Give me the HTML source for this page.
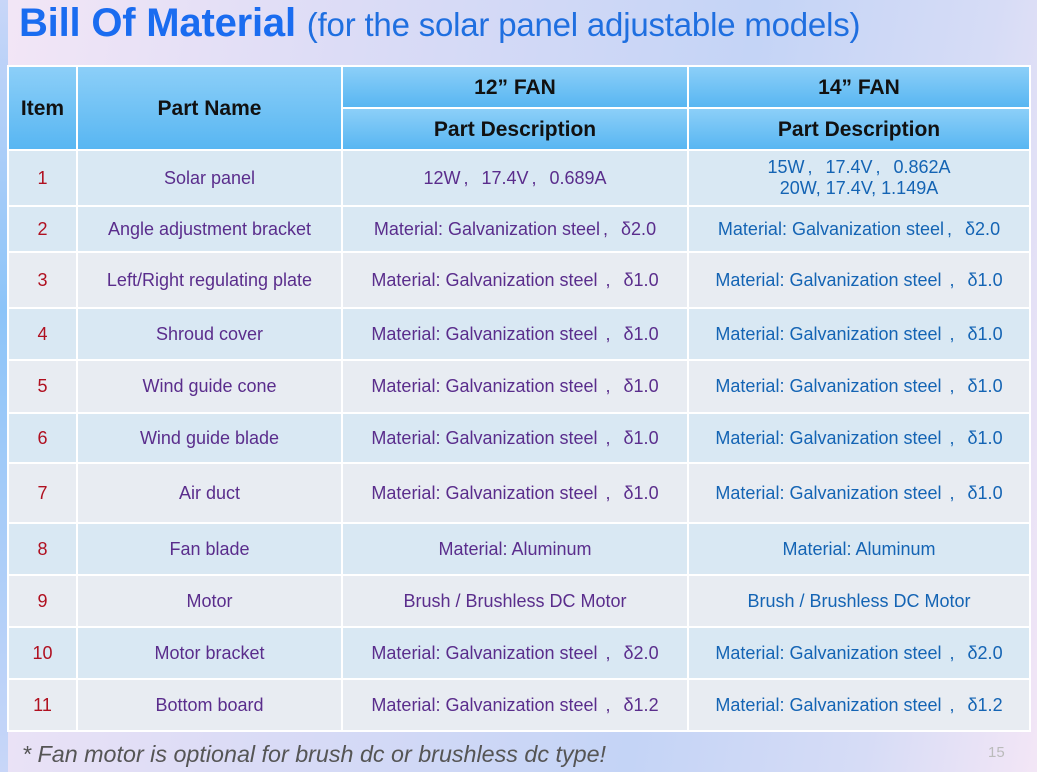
<!DOCTYPE html>
<html><head><meta charset="utf-8"><style>
html,body{margin:0;padding:0}
body{width:1037px;height:772px;position:relative;overflow:hidden;font-family:"Liberation Sans",Arial,sans-serif;
background:linear-gradient(100deg,#f3e6f6 0%,#dcdcf6 30%,#c4d4f6 65%,#d6dcf6 85%,#f3e6f6 100%);}
.edge{position:absolute;left:0;top:0;width:8px;height:772px;background:linear-gradient(180deg,#c8d6f8,#8cc4f8 40%,#c8d6f8)}
h1{position:absolute;left:19px;top:1px;margin:0;font-weight:bold;font-size:40px;color:#1a6cf0;white-space:nowrap;letter-spacing:-0.2px}
h1 span{font-weight:normal;font-size:33px;color:#1f6fe0}
table{position:absolute;left:7px;top:65px;border-collapse:collapse;width:1022px;table-layout:fixed}
td{border:2px solid #fff;text-align:center;font-size:18px;padding:0;line-height:21px;white-space:nowrap}
.h{background:linear-gradient(180deg,#8ccff8,#58b6f2);font-weight:bold;color:#111;font-size:21px}
.b td{background:#d9e8f3}.g td{background:#e8ecf2}
.i{color:#b01020}.n{color:#5a2d8c}.c{color:#5a2d8c}.d{color:#1464b4}
.cm{display:inline-block;width:18px;text-align:left;padding-left:3px}
.foot{position:absolute;left:22px;top:741px;font-style:italic;font-size:23.3px;color:#555}
.pg{position:absolute;left:988px;top:744px;font-size:15px;color:#bbb}
</style></head><body>
<div class="edge"></div>
<h1>Bill Of Material <span>(for the solar panel adjustable models)</span></h1>
<table>
<col style="width:69px"><col style="width:265px"><col style="width:346px"><col style="width:342px">
<tr style="height:42px"><td class="h" rowspan="2">Item</td><td class="h" rowspan="2">Part Name</td><td class="h">12” FAN</td><td class="h">14” FAN</td></tr>
<tr style="height:42px"><td class="h">Part Description</td><td class="h">Part Description</td></tr>
<tr class="b" style="height:56px"><td class="i">1</td><td class="n">Solar panel</td><td class="c">12W<span class="cm">,</span>17.4V<span class="cm">,</span>0.689A</td><td class="d">15W<span class="cm">,</span>17.4V<span class="cm">,</span>0.862A<br>20W, 17.4V, 1.149A</td></tr>
<tr class="b" style="height:46px"><td class="i">2</td><td class="n">Angle adjustment bracket</td><td class="c">Material: Galvanization steel<span class="cm">,</span>δ2.0</td><td class="d">Material: Galvanization steel<span class="cm">,</span>δ2.0</td></tr>
<tr class="g" style="height:56px"><td class="i">3</td><td class="n">Left/Right regulating plate</td><td class="c">Material: Galvanization steel <span class="cm">,</span>δ1.0</td><td class="d">Material: Galvanization steel <span class="cm">,</span>δ1.0</td></tr>
<tr class="b" style="height:52px"><td class="i">4</td><td class="n">Shroud cover</td><td class="c">Material: Galvanization steel <span class="cm">,</span>δ1.0</td><td class="d">Material: Galvanization steel <span class="cm">,</span>δ1.0</td></tr>
<tr class="g" style="height:53px"><td class="i">5</td><td class="n">Wind guide cone</td><td class="c">Material: Galvanization steel <span class="cm">,</span>δ1.0</td><td class="d">Material: Galvanization steel <span class="cm">,</span>δ1.0</td></tr>
<tr class="b" style="height:50px"><td class="i">6</td><td class="n">Wind guide blade</td><td class="c">Material: Galvanization steel <span class="cm">,</span>δ1.0</td><td class="d">Material: Galvanization steel <span class="cm">,</span>δ1.0</td></tr>
<tr class="g" style="height:60px"><td class="i">7</td><td class="n">Air duct</td><td class="c">Material: Galvanization steel <span class="cm">,</span>δ1.0</td><td class="d">Material: Galvanization steel <span class="cm">,</span>δ1.0</td></tr>
<tr class="b" style="height:52px"><td class="i">8</td><td class="n">Fan blade</td><td class="c">Material: Aluminum</td><td class="d">Material: Aluminum</td></tr>
<tr class="g" style="height:52px"><td class="i">9</td><td class="n">Motor</td><td class="c">Brush / Brushless DC Motor</td><td class="d">Brush / Brushless DC Motor</td></tr>
<tr class="b" style="height:52px"><td class="i">10</td><td class="n">Motor bracket</td><td class="c">Material: Galvanization steel <span class="cm">,</span>δ2.0</td><td class="d">Material: Galvanization steel <span class="cm">,</span>δ2.0</td></tr>
<tr class="g" style="height:52px"><td class="i">11</td><td class="n">Bottom board</td><td class="c">Material: Galvanization steel <span class="cm">,</span>δ1.2</td><td class="d">Material: Galvanization steel <span class="cm">,</span>δ1.2</td></tr>
</table>
<div class="foot">* Fan motor is optional for brush dc or brushless dc type!</div>
<div class="pg">15</div>
</body></html>
